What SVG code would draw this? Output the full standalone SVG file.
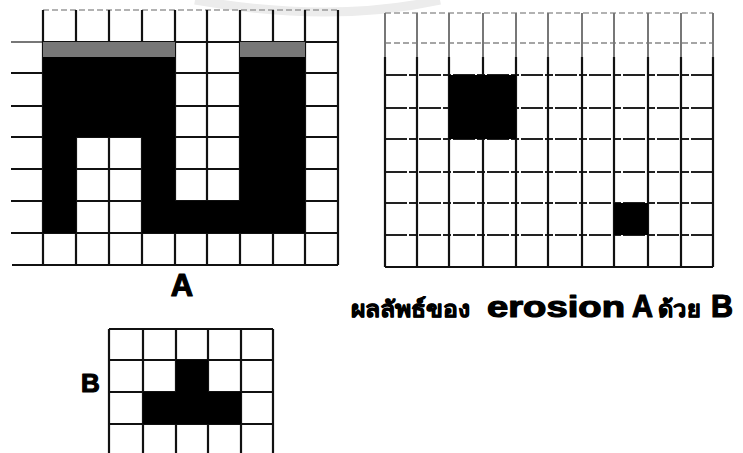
<svg xmlns="http://www.w3.org/2000/svg" width="743" height="453" viewBox="0 0 743 453">
<style>
.g{stroke:#111;stroke-width:2.2;fill:none}
.gl{stroke:#777;stroke-width:2;fill:none}
.d{stroke:#222;stroke-width:2;fill:none;stroke-dasharray:22 2 8 2}
.dl{stroke:#999;stroke-width:1.5;fill:none;stroke-dasharray:6 3}
.blk{fill:#000}
.lab{font-family:"Liberation Sans",Arial,sans-serif;font-weight:bold;fill:#000;stroke:#000;stroke-width:1.2;stroke-linejoin:round}
.th{font-family:"Noto Sans","DejaVu Sans",sans-serif;font-weight:bold;fill:#000;stroke:#000;stroke-width:0.8;stroke-linejoin:round}
</style>
<rect width="743" height="453" fill="#fff"/>
<path d="M195 0 Q330 24 440 0" stroke="#ececec" stroke-width="9" fill="none"/>

<g id="gridA">
  <path class="dl" d="M43 10H338"/>
  <path class="gl" d="M11 42H43"/>
  <path class="g" d="M43 42H338M11 73H338M11 106H338M11 137H338M11 169H338M11 201H338M11 233H338M12 265H338"/>
  <path class="g" d="M43 10V265M76 10V265M109 10V265M142 10V265M175 10V265M207 10V265M240 10V265M273 10V265M305 10V265M338 10V265"/>
  <path class="blk" d="M43 42H175V201H240V42H305V233H142V137H76V233H43Z"/>
  <rect x="43" y="42" width="132" height="15" fill="#777"/>
  <rect x="240" y="42" width="65" height="15" fill="#777"/>
  <text class="lab" x="182" y="296" font-size="31" text-anchor="middle">A</text>
</g>

<g id="gridResult">
  <path class="dl" d="M385 13H713"/>
  <path class="dl" d="M385 43H713" style="stroke:#888"/>
  <path class="d" d="M385 75H713M385 108H713M385 139H713M385 172H713M385 203H713M385 235H713"/>
  <path class="g" d="M385 267H713"/>
  <path class="gl" d="M385 13V57M417 13V57M449 13V57M483 13V57M516 13V57M548 13V57M582 13V57M614 13V57M648 13V57M681 13V57M713 13V57"/>
  <path class="g" d="M385 57V267M417 57V267M449 57V267M483 57V267M516 57V267M548 57V267M582 57V267M614 57V267M648 57V267M681 57V267M713 57V267"/>
  <rect class="blk" x="449" y="75" width="67" height="64"/>
  <rect class="blk" x="614" y="203" width="34" height="32"/>
</g>

<g id="gridB">
  <path class="g" d="M109 329H273M109 360H273M109 392H273M109 424H273"/>
  <path class="g" d="M109 329V453M143 329V453M176 329V453M208 329V453M241 329V453M273 329V453"/>
  <rect class="blk" x="176" y="360" width="32" height="32"/>
  <rect class="blk" x="143" y="392" width="98" height="32"/>
  <text class="lab" x="81" y="392" font-size="26">B</text>
</g>

<g id="caption">
  <text class="th" x="351" y="317" font-size="23" textLength="119" lengthAdjust="spacingAndGlyphs">ผลลัพธ์ของ</text>
  <text class="lab" x="487" y="317" font-size="30" textLength="138" lengthAdjust="spacingAndGlyphs">erosion</text>
  <text class="lab" x="632" y="317" font-size="31" textLength="21" lengthAdjust="spacingAndGlyphs">A</text>
  <text class="th" x="658" y="317" font-size="23" textLength="42" lengthAdjust="spacingAndGlyphs">ด้วย</text>
  <text class="lab" x="711" y="317" font-size="31" textLength="22" lengthAdjust="spacingAndGlyphs">B</text>
</g>
</svg>
